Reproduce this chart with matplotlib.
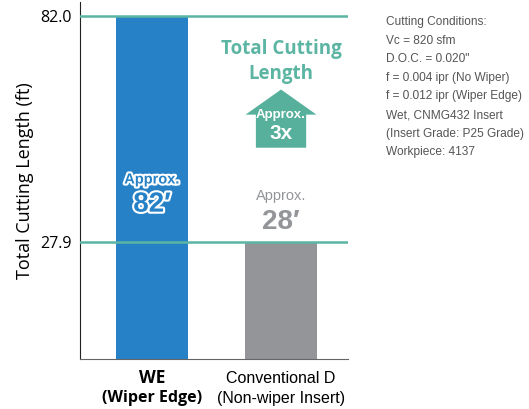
import matplotlib
matplotlib.use("Agg")
import matplotlib.pyplot as plt
import matplotlib.patheffects as pe
from matplotlib.patches import FancyArrow

# bar data
categories = ["WE", "Conventional D"]
subtitles = ["(Wiper Edge)", "(Non-wiper Insert)"]
values = [82.0, 27.9]
labels = ["82\u2032", "28\u2032"]
ratio_label = "3x"
conditions = [
    "Cutting Conditions:",
    "Vc = 820 sfm",
    "D.O.C. = 0.020\"",
    "f = 0.004 ipr (No Wiper)",
    "f = 0.012 ipr (Wiper Edge)",
    "Wet, CNMG432 Insert",
    "(Insert Grade: P25 Grade)",
    "Workpiece: 4137",
]

blue = "#2681c6"
gray = "#939598"
teal = "#5bb5a2"
arrow_teal = "#57b09c"
narrow = ["Liberation Sans", "DejaVu Sans"]

fig = plt.figure(figsize=(5.29, 4.09), dpi=100)
ax = fig.add_axes([0.151, 0.122, 0.507, 0.873])

x = [0, 1]
ax.bar(x, values, width=0.56, color=[blue, gray], zorder=2)
for v in values:
    ax.axhline(v, color=teal, lw=1.8, zorder=3)

ax.set_xlim(-0.56, 1.52)
ax.set_ylim(0, 85.3)
ax.set_yticks(values)
ax.set_yticklabels([f"{v:.1f}" for v in values], fontsize=11.5, family="Open Sans")
ax.tick_params(axis="y", length=0, pad=6)
ax.set_xticks([])
ax.set_ylabel("Total Cutting Length (ft)", fontsize=13, family="Open Sans", labelpad=4)

for s in ["top", "right"]:
    ax.spines[s].set_visible(False)
ax.spines["left"].set_color("#222222")
ax.spines["bottom"].set_color("#666666")

# category labels under the axis
xt = ax.get_xaxis_transform()
ax.text(0, -0.053, categories[0], transform=xt, ha="center", va="center",
        fontsize=12.5, fontweight="bold", family="Open Sans")
ax.text(0, -0.11, subtitles[0], transform=xt, ha="center", va="center",
        fontsize=11.5, fontweight="bold", family="Open Sans")
ax.text(1, -0.053, categories[1], transform=xt, ha="center", va="center",
        fontsize=11.5, family=narrow)
ax.text(1, -0.11, subtitles[1], transform=xt, ha="center", va="center",
        fontsize=11.5, family=narrow)

# value labels
outline = [pe.withStroke(linewidth=3, foreground="white")]
ax.text(0, 42.9, "Approx.", ha="center", va="center", color=blue, fontsize=10.5,
        fontweight="bold", family=narrow, path_effects=outline)
ax.text(0, 36.9, labels[0], ha="center", va="center", color=blue, fontsize=20,
        fontweight="bold", family=narrow, path_effects=outline)
ax.text(1, 39.0, "Approx.", ha="center", va="center", color=gray, fontsize=10.5, family=narrow)
ax.text(1, 32.8, labels[1], ha="center", va="center", color=gray, fontsize=20,
        fontweight="bold", family=narrow)

# ratio arrow
ax.add_patch(FancyArrow(1, 50.5, 0, 13.9, width=0.39, head_width=0.55, head_length=6.0,
                        length_includes_head=True, color=arrow_teal, lw=0, zorder=3))
ax.text(1, 58.3, "Approx.", ha="center", va="center", color="white", fontsize=9.5,
        fontweight="bold", family=narrow, zorder=4)
ax.text(1, 54.0, ratio_label, ha="center", va="center", color="white", fontsize=15,
        fontweight="bold", family=narrow, zorder=4)
ax.text(1, 74.0, "Total Cutting", ha="center", va="center", color=teal, fontsize=13.5,
        fontweight="bold", family="Open Sans")
ax.text(1, 68.2, "Length", ha="center", va="center", color=teal, fontsize=13.5,
        fontweight="bold", family="Open Sans")

# cutting conditions block
for i, line in enumerate(conditions):
    fig.text(386 / 529, 1 - (22 + i * 18.6) / 409, line, ha="left", va="center",
             fontsize=8.6, color="#555555", family=narrow)

fig.savefig("out.png", dpi=100)
